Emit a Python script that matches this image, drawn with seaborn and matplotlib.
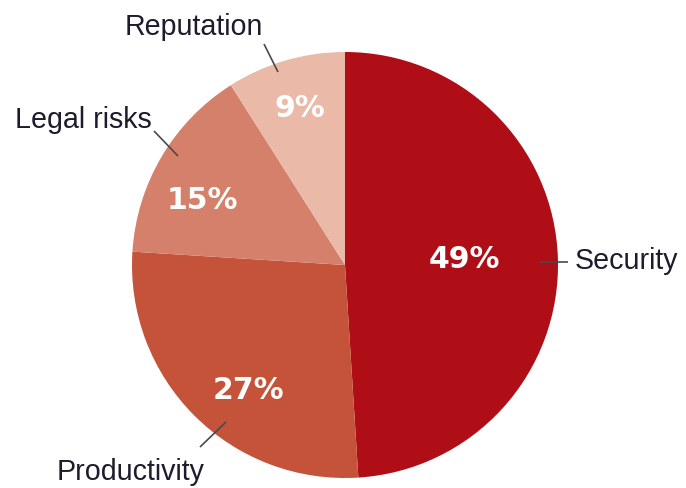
import matplotlib
matplotlib.use("Agg")
import matplotlib.pyplot as plt
import seaborn as sns

# Share of respondents by main concern
categories = ["Security", "Productivity", "Legal risks", "Reputation"]
shares = [49, 27, 15, 9]
value_labels = ["49%", "27%", "15%", "9%"]
colors = ["#AF0E17", "#C4533A", "#D4806A", "#EAB9A7"]

sns.set_theme(style="white")
plt.rcParams["font.family"] = ["Liberation Sans", "DejaVu Sans"]

W, H = 686, 489
fig = plt.figure(figsize=(W / 100, H / 100), dpi=100)
ax = fig.add_axes([0, 0, 1, 1])


def px(x, y):
    """Pixel position (origin top-left) to data coordinates."""
    return x, H - y


cx, cy = px(345, 266)
ax.pie(shares, colors=colors, startangle=90, counterclock=False,
       radius=213, center=(cx, cy), frame=True,
       wedgeprops=dict(linewidth=0))
ax.set_xlim(0, W)
ax.set_ylim(0, H)
ax.set_aspect("equal")
ax.axis("off")

# Percentage labels inside the wedges (centre x, baseline y)
pct_pos = [(464, 268), (248, 399), (202, 209), (300, 117)]
for txt, (x, y) in zip(value_labels, pct_pos):
    ax.text(*px(x, y), txt, ha="center", va="baseline", color="white",
            fontsize=21.5, fontweight="heavy", family=["DejaVu Sans"])

# Category names with short leader lines
name_pos = [(575, 269, "left"), (57, 480, "left"), (15, 128, "left"), (125, 35, "left")]
leaders = [((540, 263), (568, 263)), ((200, 448), (226, 423)),
           ((154, 132), (178, 157)), ((264, 45), (278, 73))]
for name, (x, y, ha), (p0, p1) in zip(categories, name_pos, leaders):
    ax.text(*px(x, y), name, ha=ha, va="baseline", color="#1c1c2c", fontsize=20.6)
    (x0, y0), (x1, y1) = px(*p0), px(*p1)
    ax.plot([x0, x1], [y0, y1], color="#4a4a4a", lw=1.2, solid_capstyle="butt")

fig.savefig("out.png", dpi=100)
